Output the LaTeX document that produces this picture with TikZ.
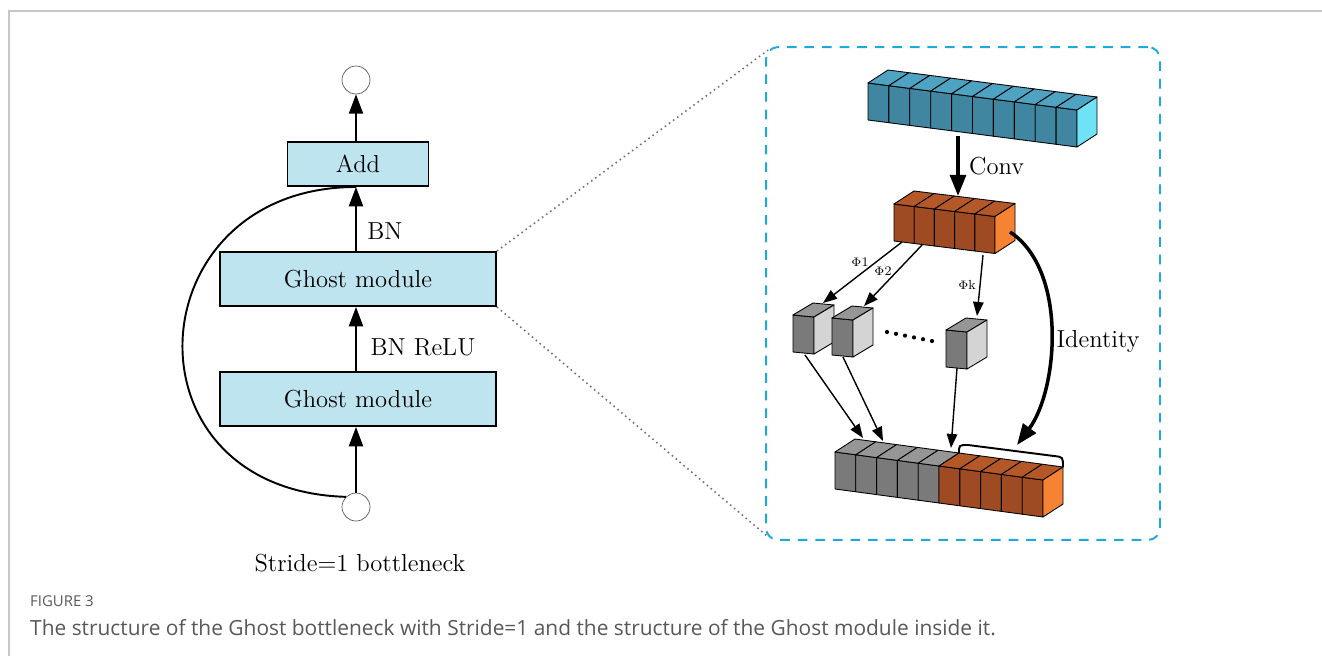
\documentclass[tikz,border=0pt]{standalone}
\usepackage{fontspec}
\newfontfamily\capfont{Open Sans}
\usetikzlibrary{arrows.meta, positioning, calc}
\definecolor{boxblue}{RGB}{190,228,239}
\definecolor{dashblue}{RGB}{29,168,222}
\definecolor{bluefront}{RGB}{64,134,160}
\definecolor{bluetop}{RGB}{78,162,194}
\definecolor{blueside}{RGB}{112,226,246}
\definecolor{orfront}{RGB}{158,74,34}
\definecolor{ortop}{RGB}{180,88,40}
\definecolor{orside}{RGB}{246,130,52}
\definecolor{gyfront}{RGB}{122,122,122}
\definecolor{gytop}{RGB}{150,150,150}
\definecolor{gyside}{RGB}{212,212,212}
\definecolor{capgray}{RGB}{88,88,88}

% one slab of a feature bar: front + top face, corner (#1,#2), step (#3,#4)
\newcommand{\slab}[6]{%
  \filldraw[cubeedge, fill=#5] (#1,#2) -- ++(#3,#4) -- ++(0,37) -- ++(-#3,-#4) -- cycle;
  \filldraw[cubeedge, fill=#6] (#1,#2) -- ++(20,-13) -- ++(#3,#4) -- ++(-20,13) -- cycle;}
% end face of a bar
\newcommand{\slabend}[3]{%
  \filldraw[cubeedge, fill=#3] (#1,#2) -- ++(20,-13) -- ++(0,37) -- ++(-20,13) -- cycle;}
% small ghost feature cube
\newcommand{\gcube}[2]{%
  \filldraw[cubeedge, fill=gyfront] (#1,#2) -- ++(21,2) -- ++(0,37) -- ++(-21,-2) -- cycle;
  \filldraw[cubeedge, fill=gytop] (#1,#2) -- ++(20,-12) -- ++(21,2) -- ++(-20,12) -- cycle;
  \filldraw[cubeedge, fill=gyside] (#1+21,#2+2) -- ++(20,-12) -- ++(0,37) -- ++(-20,12) -- cycle;}

\begin{document}
\begin{tikzpicture}[x=0.02cm, y=-0.02cm,
  modbox/.style={draw, line width=1.1pt, fill=boxblue, minimum width=5.52cm,
  minimum height=1.08cm, font=\fontsize{14}{16}\selectfont},
  port/.style={draw=black!65, circle, minimum size=0.56cm, inner sep=0pt},
  lbl/.style={font=\fontsize{14}{16}\selectfont},
  phi/.style={font=\fontsize{7.5}{8}\selectfont, inner sep=1pt},
  arr/.style={-{Triangle[length=11pt,width=8pt]}, line width=1.1pt},
  thinarr/.style={-{Triangle[length=8pt,width=6pt]}, line width=0.8pt},
  bigarr/.style={-{Triangle[length=12pt,width=9pt]}, line width=2pt},
  cubeedge/.style={draw=black, line width=0.5pt, line join=round},
  zoomline/.style={dotted, line width=0.9pt, black!55}
]
\useasboundingbox (0,0) rectangle (1322,656);
% page frame
\draw[black!22, line width=0.8pt] (1322,11) -- (9,11) -- (9,656);

% ---- bottleneck ----
\node[port] (out) at (356,80) {};
\node[modbox, minimum width=2.82cm, minimum height=0.88cm] (add) at (358,164) {Add};
\node[modbox] (gm1) at (358,279) {Ghost module};
\node[modbox] (gm2) at (358,399) {Ghost module};
\node[port] (in) at (356,507) {};
\draw[arr] (in.north) -- (in.north |- gm2.south);
\draw[arr] (in.north |- gm2.north) -- (in.north |- gm1.south);
\draw[arr] (in.north |- gm1.north) -- (in.north |- add.south);
\draw[arr] (in.north |- add.north) -- (out.south);
\node[lbl] (bn) at (385,231) {BN};
\node[lbl] (bnrelu) at (423,347) {BN ReLU};
\draw[line width=1.1pt] (in.135) .. controls (118,490) and (135,187) .. (in.north |- add.south);
\node[lbl] (stride) at (360,563) {Stride=1 bottleneck};

% ---- ghost module ----
\node[draw=dashblue, line width=1.1pt, dash pattern=on 5.5pt off 4.5pt,
  rounded corners=0.24cm, minimum width=7.88cm, minimum height=9.86cm] (gbox) at (963,293.5) {};
\draw[zoomline] (gm1.north east) -- ($(gbox.north west)+(3,4)$);
\draw[zoomline] (gm1.south east) -- ($(gbox.south west)+(3,-4)$);

% input features
\foreach \i in {0,...,9} {\slab{868+20.9*\i}{83+2.7*\i}{20.9}{2.7}{bluefront}{bluetop}}
\slabend{1077}{110}{blueside}
% intrinsic features
\foreach \i in {0,...,4} {\slab{894+20.2*\i}{204+2.5*\i}{20.2}{2.5}{orfront}{ortop}}
\slabend{995}{216.5}{orside}
% ghost features
\gcube{793}{315}
\gcube{832}{318}
\gcube{946}{330}
\foreach \i in {0,...,5} {\fill (887+9*\i,332+1.8*\i) circle (2.1);}
% output features
\foreach \i in {0,...,4} {\slab{835+20.8*\i}{452+2.8*\i}{20.8}{2.8}{gyfront}{gytop}}
\foreach \i in {5,...,9} {\slab{835+20.8*\i}{452+2.8*\i}{20.8}{2.8}{orfront}{ortop}}
\slabend{1043}{480}{orside}

\coordinate (convs) at (958,136);
\coordinate (conve) at (958,196);
\draw[bigarr] (convs) -- (conve);
\node[lbl, anchor=west] (conv) at (963,166) {Conv};

\coordinate (p1s) at (902,242);
\coordinate (p1e) at (823,303);
\coordinate (p2s) at (922,245);
\coordinate (p2e) at (864,306);
\coordinate (pks) at (983,255);
\coordinate (pke) at (977,316);
\draw[thinarr] (p1s) -- (p1e);
\draw[thinarr] (p2s) -- (p2e);
\draw[thinarr] (pks) -- (pke);
\node[phi] (phi1) at (860,262) {$\Phi$1};
\node[phi] (phi2) at (883,271) {$\Phi$2};
\node[phi] (phik) at (967,285) {$\Phi$k};

\coordinate (g1b) at (805,355);
\coordinate (g2b) at (843,357);
\coordinate (g3b) at (957,368);
\coordinate (o1) at (863,438);
\coordinate (o2) at (883,441);
\coordinate (o3) at (951,448);
\draw[thinarr] (g1b) -- (o1);
\draw[thinarr] (g2b) -- (o2);
\draw[thinarr] (g3b) -- (o3);

% identity branch
\coordinate (ids) at (1010,232);
\coordinate (ide) at (1017,445);
\draw[bigarr] (ids) .. controls (1068,270) and (1058,390) .. (ide);
\node[lbl] (ident) at (1098,341) {Identity};
\coordinate (brl) at (959,453);
\coordinate (brr) at (1063,467);
\draw[line width=1.1pt] (brl) .. controls (959,445) .. (968,445) -- (1054,456) .. controls (1063,457) .. (brr);

% caption
\node[anchor=west, font=\capfont\fontsize{8.5}{10}\selectfont, text=capgray] (figno) at (24,601) {FIGURE 3};
\node[anchor=west, font=\capfont\fontsize{11.9}{14}\selectfont, text=capgray] (caption) at (24,628)
  {The structure of the Ghost bottleneck with Stride=1 and the structure of the Ghost module inside it.};
\end{tikzpicture}
\end{document}
